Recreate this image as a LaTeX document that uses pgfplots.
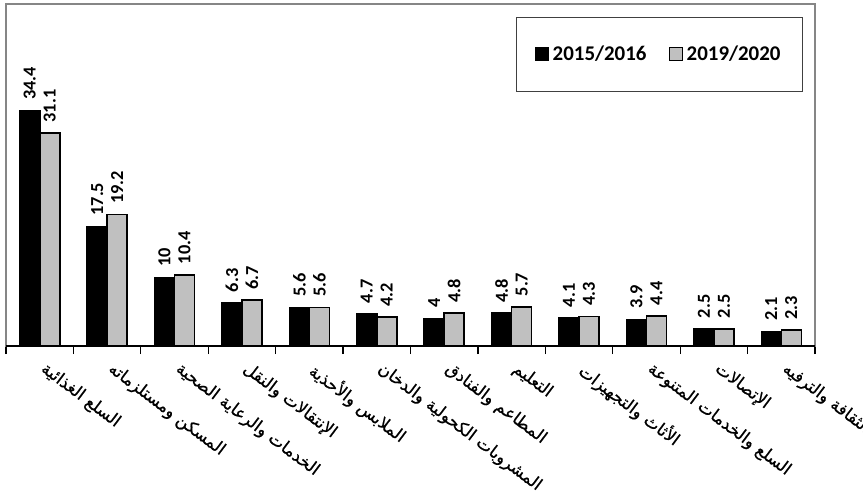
\documentclass[border=0pt]{standalone}
\usepackage{pgfplots}
\pgfplotsset{compat=1.18}
\usepackage{fontspec}
\setmainfont{Carlito}
\newfontfamily\arabicfont[Script=Arabic, FakeBold=0.6]{DejaVu Sans}
\TeXXeTstate=1
\definecolor{barGray}{HTML}{C0C0C0}
\definecolor{frameGray}{HTML}{868686}
\newcommand{\ar}[1]{\arabicfont\beginR #1\endR}

\begin{document}
\begin{tikzpicture}
\begin{axis}[
    scale only axis,
    width=404.5bp, height=171bp,
    ybar=0pt, bar width=10bp,
    ymin=0, ymax=50,
    xmin=-0.5, xmax=11.5,
    ytick=\empty,
    xtick={0,...,11},
    major tick length=0pt,
    minor xtick={-0.5,0.5,...,11.5},
    minor tick length=4bp,
    tick align=outside,
    xtick pos=left,
    minor x tick style={black, line width=0.6bp},
    axis line style={frameGray, line width=0.8bp},
    xticklabels={
        \ar{السلع الغذائية},
        \ar{المسكن ومستلزماته},
        \ar{الخدمات والرعاية الصحية},
        \ar{الإنتقالات والنقل},
        \ar{الملابس والأحذية},
        \ar{المشروبات الكحولية والدخان},
        \ar{المطاعم والفنادق},
        \ar{التعليم},
        \ar{الأثاث والتجهيزات},
        \ar{السلع والخدمات المتنوعة},
        \ar{الإتصالات},
        \ar{الثقافة والترفيه}},
    xticklabel style={xshift=4bp, yshift=-7bp, rotate=-37, anchor=north west, inner sep=0pt,
        font=\fontsize{8.4}{10}\selectfont},
    /pgf/number format/assume math mode=true,
    nodes near coords,
    every node near coord/.append style={rotate=90, anchor=west,
        inner xsep=5bp, inner ysep=0pt, black,
        font=\bfseries\fontsize{9.2}{10}\selectfont},
    legend columns=2,
    legend style={at={(1,1)}, anchor=north east, xshift=-6bp, yshift=-6.5bp,
        draw=black!75, line width=0.5bp, inner xsep=9bp, inner ysep=12bp,
        font=\bfseries\fontsize{10.5}{12}\selectfont,
        /tikz/every even column/.append style={column sep=9bp}},
    legend image code/.code={\draw[#1, draw=black, line width=0.6bp] (0bp,-3bp) rectangle (6.5bp,3.5bp);},
]
\addplot[fill=black, draw=black, line width=0.8bp] coordinates {
    (0,34.4) (1,17.5) (2,10) (3,6.3) (4,5.6) (5,4.7)
    (6,4) (7,4.8) (8,4.1) (9,3.9) (10,2.5) (11,2.1)};
\addplot[fill=barGray, draw=black, line width=0.8bp] coordinates {
    (0,31.1) (1,19.2) (2,10.4) (3,6.7) (4,5.6) (5,4.2)
    (6,4.8) (7,5.7) (8,4.3) (9,4.4) (10,2.5) (11,2.3)};
\legend{2015/2016, 2019/2020}
\draw[black, line width=0.8bp] (rel axis cs:0,0) -- (rel axis cs:1,0);
\coordinate (bl) at (rel axis cs:0,0);
\coordinate (tr) at (rel axis cs:1,1);
\end{axis}
\pgfresetboundingbox
\path ([shift={(-3bp,-76bp)}]bl) rectangle ([shift={(24bp,2bp)}]tr);
\end{tikzpicture}
\end{document}
